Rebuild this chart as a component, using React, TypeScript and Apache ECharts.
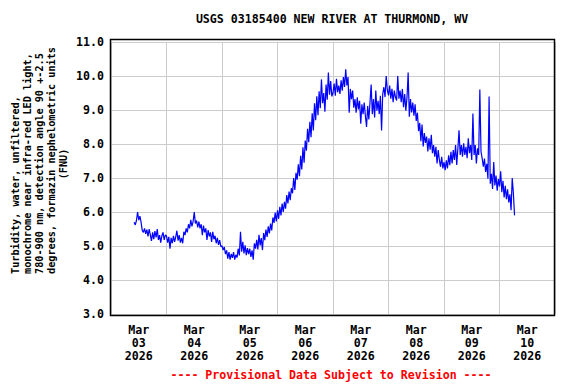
import React, { useEffect, useRef } from "react";
import * as echarts from "echarts";

const TITLE = "USGS 03185400 NEW RIVER AT THURMOND, WV";
const FOOTER = "---- Provisional Data Subject to Revision ----";
const Y_LABEL_LINES = [
  "Turbidity, water, unfiltered,",
  "monochrome near infra-red LED light,",
  "780-900 nm, detection angle 90 +-2.5",
  "degrees, formazin nephelometric units",
];
const Y_LABEL_UNIT = "(FNU)";

// day labels, centred on each day (Mar 03 .. Mar 10, 2026)
const dayLabels = [
  "Mar\n03\n2026",
  "Mar\n04\n2026",
  "Mar\n05\n2026",
  "Mar\n06\n2026",
  "Mar\n07\n2026",
  "Mar\n08\n2026",
  "Mar\n09\n2026",
  "Mar\n10\n2026",
];

// x axis in hours since Mar 03 2026 00:00
const xMinHours = 0;
const xMaxHours = 192;
const dayHours = 24;
const yTicksMin = 3;
const yTicksMax = 11;

// readings every 30 min, starting Mar 03 10:00
const startHour = 10;
const stepHours = 0.5;

const mar03 = [
  5.70, 5.62, 5.75, 6.00, 5.76, 5.88, 5.70, 5.46, 5.40, 5.52, 5.36, 5.48, 5.28, 5.50,
  5.33, 5.15, 5.40, 5.20, 5.44, 5.25, 5.50, 5.18, 5.32, 5.10, 5.30, 5.40, 5.18, 5.32,
];
const mar04 = [
  5.30, 5.10, 5.27, 4.92, 5.24, 5.08, 5.30, 5.12, 5.27, 5.45, 5.16, 5.32,
  5.10, 5.24, 5.08, 5.42, 5.32, 5.52, 5.40, 5.64, 5.52, 5.77, 5.58, 5.72,
  6.00, 5.66, 5.75, 5.55, 5.72, 5.52, 5.64, 5.32, 5.60, 5.40, 5.52, 5.18,
  5.47, 5.28, 5.40, 5.12, 5.42, 5.20, 5.30, 5.08, 5.24, 5.03, 5.17, 4.98,
];
const mar05 = [
  5.00, 4.88, 4.97, 4.76, 4.87, 4.63, 4.82, 4.60, 4.77, 4.65, 4.82, 4.60,
  4.74, 4.66, 4.92, 4.72, 5.42, 4.83, 5.12, 4.78, 5.02, 4.73, 4.94, 4.76,
  4.92, 4.68, 4.87, 4.60, 5.08, 4.92, 5.18, 4.90, 5.33, 5.02, 5.23, 4.88,
  5.38, 5.17, 5.48, 5.27, 5.58, 5.37, 5.66, 5.46, 5.84, 5.68, 5.98, 5.72,
];
const mar06 = [
  6.05, 5.80, 6.15, 5.90, 6.25, 6.00, 6.30, 6.10, 6.50, 6.25, 6.60, 6.35,
  6.70, 6.55, 7.00, 6.65, 7.15, 6.95, 7.40, 7.05, 7.65, 7.25, 7.90, 7.45,
  8.10, 7.80, 8.45, 8.05, 8.65, 8.20, 8.90, 8.40, 9.20, 8.70, 9.40, 8.85,
  9.55, 9.05, 9.90, 9.20, 9.50, 8.95, 9.75, 9.30, 10.10, 9.45, 9.85, 9.40,
];
const mar07 = [
  9.50, 9.78, 9.42, 9.92, 9.52, 9.72, 9.47, 9.87, 9.57, 9.97, 9.68, 10.20,
  9.72, 9.97, 8.92, 9.62, 9.32, 9.57, 9.07, 9.32, 8.92, 9.37, 9.02, 9.27,
  8.60, 9.17, 8.88, 9.22, 8.83, 8.50, 9.12, 8.72, 9.22, 9.75, 8.88, 9.32,
  8.78, 9.57, 8.98, 9.27, 8.88, 9.42, 8.40, 9.47, 9.67, 9.38, 10.00, 9.58,
];
const mar08 = [
  9.43, 9.72, 9.33, 9.62, 9.23, 9.57, 9.38, 9.28, 10.00, 9.33, 9.57, 9.23,
  9.62, 9.08, 9.47, 8.98, 9.37, 10.10, 8.80, 9.32, 8.93, 9.22, 8.83, 9.17,
  8.68, 8.92, 8.38, 8.62, 8.08, 8.57, 7.93, 8.32, 8.03, 8.22, 7.78, 8.17,
  7.83, 8.27, 7.73, 7.97, 7.63, 7.92, 7.43, 7.82, 7.53, 7.33, 7.62, 7.28,
];
const mar09 = [
  7.47, 7.23, 7.52, 7.28, 7.67, 7.38, 7.77, 7.43, 7.82, 7.53, 7.97, 7.38,
  7.87, 8.40, 7.68, 7.97, 7.63, 8.02, 7.68, 7.92, 7.58, 8.17, 7.73, 7.97,
  7.53, 8.90, 7.68, 7.97, 7.43, 7.87, 7.68, 9.60, 7.78, 7.58, 7.33, 7.57,
  7.18, 7.42, 6.98, 9.40, 6.83, 7.12, 6.68, 7.47, 6.78, 7.07, 6.63, 6.97,
];
const mar10 = [
  6.75, 7.20, 6.58, 6.92, 6.43, 6.77, 6.38, 6.67, 6.28, 6.52, 6.05, 7.00, 6.55, 5.90,
];

const turbidity = [...mar03, ...mar04, ...mar05, ...mar06, ...mar07, ...mar08, ...mar09, ...mar10];

const MONO = "'DejaVu Sans Mono', monospace";

export default function App() {
  const ref = useRef<HTMLDivElement>(null);

  useEffect(() => {
    if (!ref.current) return;
    const chart = echarts.init(ref.current, null, { renderer: "svg" });
    const seriesData = turbidity.map((v, i) => [startHour + i * stepHours, v]);

    const yLabelX = [15, 27, 39, 51];
    const graphics: any[] = [
      {
        type: "text",
        x: 332,
        y: 19,
        style: {
          text: TITLE,
          fontFamily: MONO,
          fontWeight: "bold",
          fontSize: 11.6,
          fill: "#000",
          align: "center",
          verticalAlign: "middle",
        },
      },
      {
        type: "text",
        x: 331,
        y: 375,
        style: {
          text: FOOTER,
          fontFamily: MONO,
          fontWeight: "bold",
          fontSize: 11.6,
          fill: "#ff0000",
          align: "center",
          verticalAlign: "middle",
        },
      },
      ...Y_LABEL_LINES.map((t, i) => ({
        type: "text",
        x: yLabelX[i],
        y: 274,
        rotation: Math.PI / 2,
        style: {
          text: t,
          fontFamily: MONO,
          fontWeight: "bold",
          fontSize: 10.2,
          fill: "#000",
          align: "left",
          verticalAlign: "middle",
        },
      })),
      {
        type: "text",
        x: 63,
        y: 164,
        rotation: Math.PI / 2,
        style: {
          text: Y_LABEL_UNIT,
          fontFamily: MONO,
          fontWeight: "bold",
          fontSize: 10.2,
          fill: "#000",
          align: "center",
          verticalAlign: "middle",
        },
      },
      {
        type: "rect",
        z: 100,
        shape: { x: 110.5, y: 39.5, width: 444, height: 276 },
        style: { fill: "none", stroke: "#000", lineWidth: 1.5 },
      },
    ];

    chart.setOption({
      animation: false,
      backgroundColor: "#fff",
      grid: { left: 111, top: 42, width: 444, height: 272, containLabel: false },
      xAxis: [
        {
          type: "value",
          min: xMinHours,
          max: xMaxHours,
          interval: dayHours,
          axisLabel: { show: false },
          axisLine: { show: false },
          axisTick: { show: false },
          splitLine: { show: true, lineStyle: { color: "#cccccc", width: 1 } },
        },
        {
          type: "category",
          position: "bottom",
          data: dayLabels,
          boundaryGap: true,
          axisLine: { show: false },
          axisTick: { show: false },
          splitLine: { show: false },
          axisLabel: {
            margin: 9,
            fontFamily: MONO,
            fontWeight: "bold",
            fontSize: 11.6,
            lineHeight: 13,
            color: "#000",
            interval: 0,
          },
        },
      ],
      yAxis: {
        type: "value",
        min: yTicksMin,
        max: yTicksMax,
        interval: 1,
        axisLine: { show: false },
        axisTick: { show: false },
        splitLine: { show: true, lineStyle: { color: "#cccccc", width: 1 } },
        axisLabel: {
          margin: 7,
          fontFamily: MONO,
          fontWeight: "bold",
          fontSize: 11.6,
          color: "#000",
          formatter: (v: number) => v.toFixed(1),
        },
      },
      series: [
        {
          type: "line",
          name: "Turbidity",
          xAxisIndex: 0,
          data: seriesData,
          showSymbol: false,
          lineStyle: { color: "#0000ff", width: 1.2 },
          itemStyle: { color: "#0000ff" },
        },
      ],
      graphic: graphics,
    });

    return () => chart.dispose();
  }, []);

  return <div ref={ref} style={{ width: 576, height: 384, position: "absolute", left: 0, top: 0 }} />;
}
